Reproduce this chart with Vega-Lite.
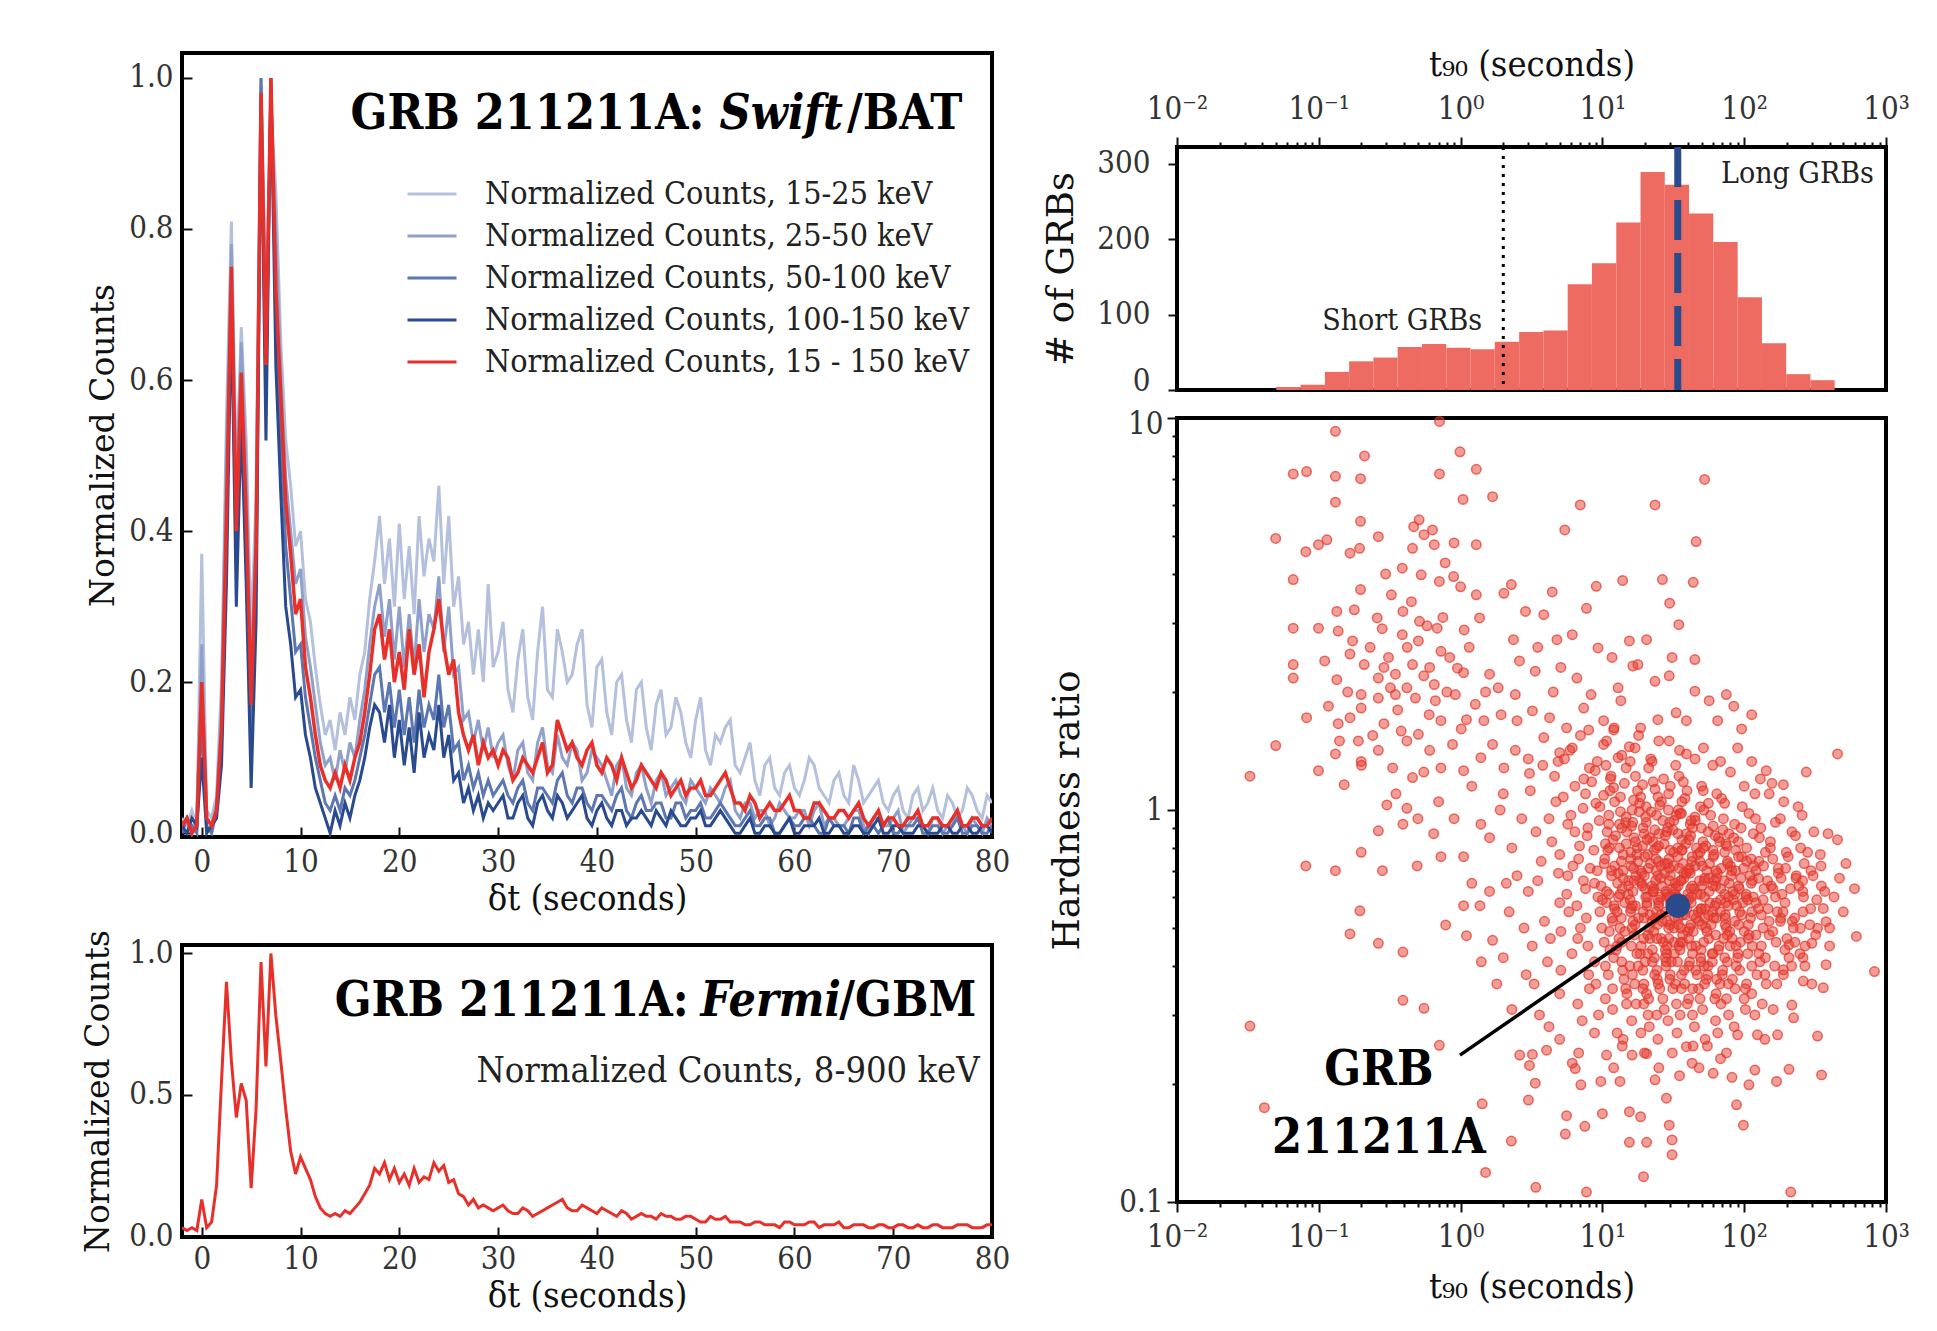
{
"$schema":"https://vega.github.io/schema/vega-lite/v6.json",
"background":"white",
"padding":{"left":80,"top":44,"right":5,"bottom":5},
"spacing":28,
"config":{
 "view":{"stroke":"black","strokeWidth":4},
 "axis":{"labelFont":"DejaVu Serif Condensed, DejaVu Serif","labelFontSize":31,"labelColor":"#333","titleFont":"DejaVu Serif Condensed, DejaVu Serif","titleFontWeight":"normal","titleColor":"#111","tickColor":"#111","tickWidth":2,"grid":false,"domain":false,"labelFlush":false}
},
"datasets":{
"b1":[{"t":-2,"y":0.02},{"t":-1.5,"y":0.01},{"t":-1,"y":0.03},{"t":-0.5,"y":0.01},{"t":0,"y":0.37},{"t":0.5,"y":0.03},{"t":1,"y":0.02},{"t":1.5,"y":0.05},{"t":2,"y":0.2},{"t":2.5,"y":0.55},{"t":3,"y":0.81},{"t":3.5,"y":0.47},{"t":4,"y":0.67},{"t":4.5,"y":0.52},{"t":5,"y":0.26},{"t":5.5,"y":0.45},{"t":6,"y":1.0},{"t":6.5,"y":0.7},{"t":7,"y":0.96},{"t":7.5,"y":0.85},{"t":8,"y":0.65},{"t":8.5,"y":0.52},{"t":9,"y":0.46},{"t":9.5,"y":0.38},{"t":10,"y":0.4},{"t":10.5,"y":0.31},{"t":11,"y":0.28},{"t":11.5,"y":0.22},{"t":12,"y":0.17},{"t":12.5,"y":0.13},{"t":13,"y":0.15},{"t":13.5,"y":0.11},{"t":14,"y":0.16},{"t":14.5,"y":0.13},{"t":15,"y":0.18},{"t":15.5,"y":0.15},{"t":16,"y":0.21},{"t":16.5,"y":0.24},{"t":17,"y":0.31},{"t":17.5,"y":0.36},{"t":18,"y":0.42},{"t":18.5,"y":0.33},{"t":19,"y":0.39},{"t":19.5,"y":0.3},{"t":20,"y":0.41},{"t":20.5,"y":0.31},{"t":21,"y":0.38},{"t":21.5,"y":0.29},{"t":22,"y":0.42},{"t":22.5,"y":0.34},{"t":23,"y":0.39},{"t":23.5,"y":0.36},{"t":24,"y":0.46},{"t":24.5,"y":0.33},{"t":25,"y":0.42},{"t":25.5,"y":0.3},{"t":26,"y":0.34},{"t":26.5,"y":0.25},{"t":27,"y":0.28},{"t":27.5,"y":0.21},{"t":28,"y":0.27},{"t":28.5,"y":0.2},{"t":29,"y":0.33},{"t":29.5,"y":0.22},{"t":30,"y":0.24},{"t":31,"y":0.19},{"t":32,"y":0.23},{"t":33,"y":0.18},{"t":34,"y":0.24},{"t":35,"y":0.19},{"t":36,"y":0.27},{"t":37,"y":0.2},{"t":38,"y":0.25},{"t":39,"y":0.17},{"t":40,"y":0.22},{"t":41,"y":0.16},{"t":42,"y":0.2},{"t":43,"y":0.15},{"t":44,"y":0.19},{"t":45,"y":0.14},{"t":46,"y":0.17},{"t":47,"y":0.13},{"t":48,"y":0.18},{"t":49,"y":0.12},{"t":50,"y":0.15},{"t":51,"y":0.11},{"t":52,"y":0.13},{"t":53,"y":0.14},{"t":54,"y":0.09},{"t":55,"y":0.1},{"t":56,"y":0.07},{"t":57,"y":0.09},{"t":58,"y":0.06},{"t":59,"y":0.08},{"t":60,"y":0.06},{"t":61,"y":0.07},{"t":62,"y":0.09},{"t":63,"y":0.05},{"t":64,"y":0.07},{"t":65,"y":0.05},{"t":66,"y":0.09},{"t":67,"y":0.04},{"t":68,"y":0.06},{"t":69,"y":0.04},{"t":70,"y":0.05},{"t":71,"y":0.03},{"t":72,"y":0.05},{"t":73,"y":0.03},{"t":74,"y":0.06},{"t":75,"y":0.02},{"t":76,"y":0.04},{"t":77,"y":0.03},{"t":78,"y":0.05},{"t":79,"y":0.02},{"t":80,"y":0.04},
{"t":30.5,"y":0.28},{"t":31.5,"y":0.16},{"t":32.5,"y":0.27},{"t":33.5,"y":0.15},{"t":34.5,"y":0.3},{"t":35.5,"y":0.18},{"t":36.5,"y":0.24},{"t":37.5,"y":0.21},{"t":38.5,"y":0.27},{"t":39.5,"y":0.14},{"t":40.5,"y":0.23},{"t":41.5,"y":0.13},{"t":42.5,"y":0.21},{"t":43.5,"y":0.12},{"t":44.5,"y":0.2},{"t":45.5,"y":0.11},{"t":46.5,"y":0.19},{"t":47.5,"y":0.14},{"t":48.5,"y":0.16},{"t":49.5,"y":0.1},{"t":50.5,"y":0.18},{"t":51.5,"y":0.09},{"t":52.5,"y":0.12},{"t":53.5,"y":0.15},{"t":54.5,"y":0.08},{"t":55.5,"y":0.12},{"t":56.5,"y":0.05},{"t":57.5,"y":0.1},{"t":58.5,"y":0.05},{"t":59.5,"y":0.09},{"t":60.5,"y":0.05},{"t":61.5,"y":0.1},{"t":62.5,"y":0.06},{"t":63.5,"y":0.04},{"t":64.5,"y":0.08},{"t":65.5,"y":0.04},{"t":66.5,"y":0.07},{"t":67.5,"y":0.05},{"t":68.5,"y":0.07},{"t":69.5,"y":0.03},{"t":70.5,"y":0.06},{"t":71.5,"y":0.02},{"t":72.5,"y":0.06},{"t":73.5,"y":0.04},{"t":74.5,"y":0.03},{"t":75.5,"y":0.05},{"t":76.5,"y":0.02},{"t":77.5,"y":0.06},{"t":78.5,"y":0.03},{"t":79.5,"y":0.05}],
"b2":[{"t":-2,"y":0.01},{"t":-1.5,"y":0.02},{"t":-1,"y":0.0},{"t":-0.5,"y":0.02},{"t":0,"y":0.25},{"t":0.5,"y":0.02},{"t":1,"y":0.01},{"t":1.5,"y":0.04},{"t":2,"y":0.17},{"t":2.5,"y":0.5},{"t":3,"y":0.78},{"t":3.5,"y":0.44},{"t":4,"y":0.65},{"t":4.5,"y":0.48},{"t":5,"y":0.2},{"t":5.5,"y":0.41},{"t":6,"y":0.99},{"t":6.5,"y":0.66},{"t":7,"y":0.97},{"t":7.5,"y":0.8},{"t":8,"y":0.61},{"t":8.5,"y":0.47},{"t":9,"y":0.4},{"t":9.5,"y":0.33},{"t":10,"y":0.35},{"t":10.5,"y":0.26},{"t":11,"y":0.22},{"t":11.5,"y":0.17},{"t":12,"y":0.12},{"t":12.5,"y":0.09},{"t":13,"y":0.1},{"t":13.5,"y":0.07},{"t":14,"y":0.11},{"t":14.5,"y":0.08},{"t":15,"y":0.12},{"t":15.5,"y":0.1},{"t":16,"y":0.15},{"t":16.5,"y":0.19},{"t":17,"y":0.25},{"t":17.5,"y":0.3},{"t":18,"y":0.33},{"t":18.5,"y":0.26},{"t":19,"y":0.31},{"t":19.5,"y":0.23},{"t":20,"y":0.3},{"t":20.5,"y":0.22},{"t":21,"y":0.29},{"t":21.5,"y":0.22},{"t":22,"y":0.31},{"t":22.5,"y":0.24},{"t":23,"y":0.29},{"t":23.5,"y":0.27},{"t":24,"y":0.34},{"t":24.5,"y":0.24},{"t":25,"y":0.3},{"t":25.5,"y":0.21},{"t":26,"y":0.22},{"t":26.5,"y":0.15},{"t":27,"y":0.16},{"t":27.5,"y":0.12},{"t":28,"y":0.15},{"t":28.5,"y":0.11},{"t":29,"y":0.14},{"t":29.5,"y":0.1},{"t":30,"y":0.12},{"t":31,"y":0.09},{"t":32,"y":0.11},{"t":33,"y":0.08},{"t":34,"y":0.12},{"t":35,"y":0.09},{"t":36,"y":0.13},{"t":37,"y":0.09},{"t":38,"y":0.11},{"t":39,"y":0.08},{"t":40,"y":0.1},{"t":41,"y":0.07},{"t":42,"y":0.09},{"t":43,"y":0.06},{"t":44,"y":0.08},{"t":45,"y":0.06},{"t":46,"y":0.07},{"t":47,"y":0.05},{"t":48,"y":0.07},{"t":49,"y":0.04},{"t":50,"y":0.06},{"t":51,"y":0.04},{"t":52,"y":0.05},{"t":53,"y":0.06},{"t":54,"y":0.03},{"t":55,"y":0.04},{"t":56,"y":0.02},{"t":57,"y":0.03},{"t":58,"y":0.02},{"t":59,"y":0.03},{"t":60,"y":0.02},{"t":61,"y":0.03},{"t":62,"y":0.03},{"t":63,"y":0.01},{"t":64,"y":0.02},{"t":65,"y":0.01},{"t":66,"y":0.03},{"t":67,"y":0.01},{"t":68,"y":0.02},{"t":69,"y":0.01},{"t":70,"y":0.02},{"t":71,"y":0.0},{"t":72,"y":0.02},{"t":73,"y":0.01},{"t":74,"y":0.02},{"t":75,"y":0.0},{"t":76,"y":0.01},{"t":77,"y":0.01},{"t":78,"y":0.02},{"t":79,"y":0.0},{"t":80,"y":0.01},
{"t":30.5,"y":0.13},{"t":31.5,"y":0.07},{"t":32.5,"y":0.12},{"t":33.5,"y":0.07},{"t":34.5,"y":0.14},{"t":35.5,"y":0.08},{"t":36.5,"y":0.1},{"t":37.5,"y":0.12},{"t":38.5,"y":0.07},{"t":39.5,"y":0.11},{"t":40.5,"y":0.09},{"t":41.5,"y":0.05},{"t":42.5,"y":0.1},{"t":43.5,"y":0.05},{"t":44.5,"y":0.09},{"t":45.5,"y":0.04},{"t":46.5,"y":0.08},{"t":47.5,"y":0.06},{"t":48.5,"y":0.05},{"t":49.5,"y":0.07},{"t":50.5,"y":0.05},{"t":51.5,"y":0.06},{"t":52.5,"y":0.04},{"t":53.5,"y":0.07},{"t":54.5,"y":0.02},{"t":55.5,"y":0.04},{"t":56.5,"y":0.03},{"t":57.5,"y":0.01},{"t":58.5,"y":0.04},{"t":59.5,"y":0.02},{"t":60.5,"y":0.03},{"t":61.5,"y":0.01},{"t":62.5,"y":0.04},{"t":63.5,"y":0.02},{"t":64.5,"y":0.01},{"t":65.5,"y":0.02},{"t":66.5,"y":0.03},{"t":67.5,"y":0.0},{"t":68.5,"y":0.02},{"t":69.5,"y":0.01},{"t":70.5,"y":0.03},{"t":71.5,"y":0.01},{"t":72.5,"y":0.02},{"t":73.5,"y":0.0},{"t":74.5,"y":0.02},{"t":75.5,"y":0.01},{"t":76.5,"y":0.03},{"t":77.5,"y":0.0},{"t":78.5,"y":0.01},{"t":79.5,"y":0.02}],
"b3":[{"t":-2,"y":0.0},{"t":-1.5,"y":0.02},{"t":-1,"y":0.01},{"t":-0.5,"y":0.0},{"t":0,"y":0.15},{"t":0.5,"y":0.01},{"t":1,"y":0.0},{"t":1.5,"y":0.03},{"t":2,"y":0.12},{"t":2.5,"y":0.4},{"t":3,"y":0.73},{"t":3.5,"y":0.36},{"t":4,"y":0.58},{"t":4.5,"y":0.4},{"t":5,"y":0.12},{"t":5.5,"y":0.33},{"t":6,"y":1.0},{"t":6.5,"y":0.58},{"t":7,"y":0.99},{"t":7.5,"y":0.7},{"t":8,"y":0.52},{"t":8.5,"y":0.38},{"t":9,"y":0.31},{"t":9.5,"y":0.24},{"t":10,"y":0.25},{"t":10.5,"y":0.18},{"t":11,"y":0.14},{"t":11.5,"y":0.1},{"t":12,"y":0.07},{"t":12.5,"y":0.04},{"t":13,"y":0.03},{"t":13.5,"y":0.05},{"t":14,"y":0.03},{"t":14.5,"y":0.06},{"t":15,"y":0.05},{"t":15.5,"y":0.07},{"t":16,"y":0.1},{"t":16.5,"y":0.13},{"t":17,"y":0.17},{"t":17.5,"y":0.21},{"t":18,"y":0.22},{"t":18.5,"y":0.16},{"t":19,"y":0.2},{"t":19.5,"y":0.14},{"t":20,"y":0.19},{"t":20.5,"y":0.13},{"t":21,"y":0.18},{"t":21.5,"y":0.12},{"t":22,"y":0.19},{"t":22.5,"y":0.14},{"t":23,"y":0.17},{"t":23.5,"y":0.15},{"t":24,"y":0.21},{"t":24.5,"y":0.14},{"t":25,"y":0.17},{"t":25.5,"y":0.11},{"t":26,"y":0.12},{"t":26.5,"y":0.07},{"t":27,"y":0.09},{"t":27.5,"y":0.06},{"t":28,"y":0.08},{"t":28.5,"y":0.05},{"t":29,"y":0.07},{"t":29.5,"y":0.05},{"t":30,"y":0.06},{"t":31,"y":0.05},{"t":32,"y":0.06},{"t":33,"y":0.04},{"t":34,"y":0.06},{"t":35,"y":0.05},{"t":36,"y":0.07},{"t":37,"y":0.05},{"t":38,"y":0.06},{"t":39,"y":0.04},{"t":40,"y":0.05},{"t":41,"y":0.04},{"t":42,"y":0.05},{"t":43,"y":0.03},{"t":44,"y":0.04},{"t":45,"y":0.03},{"t":46,"y":0.04},{"t":47,"y":0.02},{"t":48,"y":0.04},{"t":49,"y":0.02},{"t":50,"y":0.03},{"t":51,"y":0.02},{"t":52,"y":0.03},{"t":53,"y":0.03},{"t":54,"y":0.01},{"t":55,"y":0.02},{"t":56,"y":0.01},{"t":57,"y":0.02},{"t":58,"y":0.0},{"t":59,"y":0.01},{"t":60,"y":0.01},{"t":61,"y":0.02},{"t":62,"y":0.01},{"t":63,"y":0.0},{"t":64,"y":0.01},{"t":65,"y":0.01},{"t":66,"y":0.02},{"t":67,"y":0.0},{"t":68,"y":0.01},{"t":69,"y":0.01},{"t":70,"y":0.0},{"t":71,"y":0.01},{"t":72,"y":0.01},{"t":73,"y":0.0},{"t":74,"y":0.01},{"t":75,"y":0.0},{"t":76,"y":0.01},{"t":77,"y":0.0},{"t":78,"y":0.01},{"t":79,"y":0.0},{"t":80,"y":0.01},
{"t":30.5,"y":0.07},{"t":31.5,"y":0.04},{"t":32.5,"y":0.07},{"t":33.5,"y":0.03},{"t":34.5,"y":0.06},{"t":35.5,"y":0.04},{"t":36.5,"y":0.08},{"t":37.5,"y":0.04},{"t":38.5,"y":0.06},{"t":39.5,"y":0.03},{"t":40.5,"y":0.05},{"t":41.5,"y":0.03},{"t":42.5,"y":0.06},{"t":43.5,"y":0.02},{"t":44.5,"y":0.05},{"t":45.5,"y":0.03},{"t":46.5,"y":0.04},{"t":47.5,"y":0.02},{"t":48.5,"y":0.04},{"t":49.5,"y":0.03},{"t":50.5,"y":0.04},{"t":51.5,"y":0.02},{"t":52.5,"y":0.04},{"t":53.5,"y":0.02},{"t":54.5,"y":0.01},{"t":55.5,"y":0.03},{"t":56.5,"y":0.01},{"t":57.5,"y":0.02},{"t":58.5,"y":0.0},{"t":59.5,"y":0.02},{"t":60.5,"y":0.01},{"t":61.5,"y":0.02},{"t":62.5,"y":0.0},{"t":63.5,"y":0.02},{"t":64.5,"y":0.01},{"t":65.5,"y":0.0},{"t":66.5,"y":0.02},{"t":67.5,"y":0.01},{"t":68.5,"y":0.0},{"t":69.5,"y":0.02},{"t":70.5,"y":0.0},{"t":71.5,"y":0.01},{"t":72.5,"y":0.02},{"t":73.5,"y":0.0},{"t":74.5,"y":0.01},{"t":75.5,"y":0.0},{"t":76.5,"y":0.02},{"t":77.5,"y":0.0},{"t":78.5,"y":0.01},{"t":79.5,"y":0.0}],
"b4":[{"t":-2,"y":0.01},{"t":-1.5,"y":0.0},{"t":-1,"y":0.02},{"t":-0.5,"y":0.01},{"t":0,"y":0.1},{"t":0.5,"y":0.0},{"t":1,"y":0.01},{"t":1.5,"y":0.02},{"t":2,"y":0.09},{"t":2.5,"y":0.33},{"t":3,"y":0.7},{"t":3.5,"y":0.3},{"t":4,"y":0.55},{"t":4.5,"y":0.33},{"t":5,"y":0.06},{"t":5.5,"y":0.28},{"t":6,"y":0.97},{"t":6.5,"y":0.52},{"t":7,"y":1.0},{"t":7.5,"y":0.62},{"t":8,"y":0.45},{"t":8.5,"y":0.3},{"t":9,"y":0.25},{"t":9.5,"y":0.18},{"t":10,"y":0.19},{"t":10.5,"y":0.13},{"t":11,"y":0.1},{"t":11.5,"y":0.06},{"t":12,"y":0.04},{"t":12.5,"y":0.02},{"t":13,"y":0.0},{"t":13.5,"y":0.03},{"t":14,"y":0.01},{"t":14.5,"y":0.04},{"t":15,"y":0.02},{"t":15.5,"y":0.05},{"t":16,"y":0.07},{"t":16.5,"y":0.1},{"t":17,"y":0.14},{"t":17.5,"y":0.17},{"t":18,"y":0.16},{"t":18.5,"y":0.12},{"t":19,"y":0.17},{"t":19.5,"y":0.1},{"t":20,"y":0.15},{"t":20.5,"y":0.09},{"t":21,"y":0.14},{"t":21.5,"y":0.08},{"t":22,"y":0.16},{"t":22.5,"y":0.1},{"t":23,"y":0.13},{"t":23.5,"y":0.11},{"t":24,"y":0.17},{"t":24.5,"y":0.1},{"t":25,"y":0.13},{"t":25.5,"y":0.07},{"t":26,"y":0.08},{"t":26.5,"y":0.04},{"t":27,"y":0.06},{"t":27.5,"y":0.03},{"t":28,"y":0.05},{"t":28.5,"y":0.02},{"t":29,"y":0.04},{"t":29.5,"y":0.03},{"t":30,"y":0.04},{"t":31,"y":0.02},{"t":32,"y":0.04},{"t":33,"y":0.02},{"t":34,"y":0.04},{"t":35,"y":0.03},{"t":36,"y":0.05},{"t":37,"y":0.02},{"t":38,"y":0.04},{"t":39,"y":0.02},{"t":40,"y":0.03},{"t":41,"y":0.02},{"t":42,"y":0.03},{"t":43,"y":0.01},{"t":44,"y":0.02},{"t":45,"y":0.02},{"t":46,"y":0.03},{"t":47,"y":0.01},{"t":48,"y":0.02},{"t":49,"y":0.01},{"t":50,"y":0.02},{"t":51,"y":0.01},{"t":52,"y":0.02},{"t":53,"y":0.02},{"t":54,"y":0.0},{"t":55,"y":0.01},{"t":56,"y":0.0},{"t":57,"y":0.01},{"t":58,"y":0.0},{"t":59,"y":0.01},{"t":60,"y":0.0},{"t":61,"y":0.01},{"t":62,"y":0.01},{"t":63,"y":0.0},{"t":64,"y":0.01},{"t":65,"y":0.0},{"t":66,"y":0.01},{"t":67,"y":0.0},{"t":68,"y":0.01},{"t":69,"y":0.0},{"t":70,"y":0.01},{"t":71,"y":0.0},{"t":72,"y":0.0},{"t":73,"y":0.01},{"t":74,"y":0.0},{"t":75,"y":0.01},{"t":76,"y":0.0},{"t":77,"y":0.01},{"t":78,"y":0.0},{"t":79,"y":0.01},{"t":80,"y":0.0},
{"t":30.5,"y":0.05},{"t":31.5,"y":0.02},{"t":32.5,"y":0.05},{"t":33.5,"y":0.01},{"t":34.5,"y":0.05},{"t":35.5,"y":0.02},{"t":36.5,"y":0.04},{"t":37.5,"y":0.03},{"t":38.5,"y":0.05},{"t":39.5,"y":0.01},{"t":40.5,"y":0.04},{"t":41.5,"y":0.01},{"t":42.5,"y":0.03},{"t":43.5,"y":0.02},{"t":44.5,"y":0.03},{"t":45.5,"y":0.01},{"t":46.5,"y":0.02},{"t":47.5,"y":0.03},{"t":48.5,"y":0.01},{"t":49.5,"y":0.02},{"t":50.5,"y":0.03},{"t":51.5,"y":0.01},{"t":52.5,"y":0.03},{"t":53.5,"y":0.01},{"t":54.5,"y":0.0},{"t":55.5,"y":0.02},{"t":56.5,"y":0.0},{"t":57.5,"y":0.01},{"t":58.5,"y":0.0},{"t":59.5,"y":0.02},{"t":60.5,"y":0.0},{"t":61.5,"y":0.01},{"t":62.5,"y":0.02},{"t":63.5,"y":0.0},{"t":64.5,"y":0.01},{"t":65.5,"y":0.0},{"t":66.5,"y":0.01},{"t":67.5,"y":0.0},{"t":68.5,"y":0.02},{"t":69.5,"y":0.0},{"t":70.5,"y":0.01},{"t":71.5,"y":0.0},{"t":72.5,"y":0.01},{"t":73.5,"y":0.0},{"t":74.5,"y":0.0},{"t":75.5,"y":0.01},{"t":76.5,"y":0.0},{"t":77.5,"y":0.01},{"t":78.5,"y":0.0},{"t":79.5,"y":0.01}],
"b5":[{"t":-2,"y":0.01},{"t":-1.5,"y":0.02},{"t":-1,"y":0.0},{"t":-0.5,"y":0.01},{"t":0,"y":0.2},{"t":0.5,"y":0.02},{"t":1,"y":0.01},{"t":1.5,"y":0.03},{"t":2,"y":0.14},{"t":2.5,"y":0.42},{"t":3,"y":0.75},{"t":3.5,"y":0.4},{"t":4,"y":0.61},{"t":4.5,"y":0.42},{"t":5,"y":0.17},{"t":5.5,"y":0.38},{"t":6,"y":0.98},{"t":6.5,"y":0.62},{"t":7,"y":1.0},{"t":7.5,"y":0.72},{"t":8,"y":0.58},{"t":8.5,"y":0.44},{"t":9,"y":0.37},{"t":9.5,"y":0.29},{"t":10,"y":0.31},{"t":10.5,"y":0.22},{"t":11,"y":0.18},{"t":11.5,"y":0.13},{"t":12,"y":0.09},{"t":12.5,"y":0.07},{"t":13,"y":0.06},{"t":13.5,"y":0.08},{"t":14,"y":0.06},{"t":14.5,"y":0.09},{"t":15,"y":0.07},{"t":15.5,"y":0.1},{"t":16,"y":0.12},{"t":16.5,"y":0.16},{"t":17,"y":0.21},{"t":17.5,"y":0.27},{"t":18,"y":0.29},{"t":18.5,"y":0.23},{"t":19,"y":0.27},{"t":19.5,"y":0.2},{"t":20,"y":0.24},{"t":20.5,"y":0.19},{"t":21,"y":0.27},{"t":21.5,"y":0.21},{"t":22,"y":0.25},{"t":22.5,"y":0.18},{"t":23,"y":0.24},{"t":23.5,"y":0.27},{"t":24,"y":0.31},{"t":24.5,"y":0.25},{"t":25,"y":0.21},{"t":25.5,"y":0.23},{"t":26,"y":0.16},{"t":26.5,"y":0.13},{"t":27,"y":0.11},{"t":27.5,"y":0.13},{"t":28,"y":0.09},{"t":28.5,"y":0.12},{"t":29,"y":0.1},{"t":29.5,"y":0.11},{"t":30,"y":0.09},{"t":31,"y":0.1},{"t":32,"y":0.08},{"t":33,"y":0.09},{"t":34,"y":0.1},{"t":35,"y":0.08},{"t":36,"y":0.15},{"t":37,"y":0.11},{"t":38,"y":0.1},{"t":39,"y":0.11},{"t":40,"y":0.09},{"t":41,"y":0.1},{"t":42,"y":0.07},{"t":43,"y":0.08},{"t":44,"y":0.07},{"t":45,"y":0.08},{"t":46,"y":0.06},{"t":47,"y":0.07},{"t":48,"y":0.06},{"t":49,"y":0.05},{"t":50,"y":0.06},{"t":51,"y":0.05},{"t":52,"y":0.06},{"t":53,"y":0.08},{"t":54,"y":0.04},{"t":55,"y":0.03},{"t":56,"y":0.04},{"t":57,"y":0.03},{"t":58,"y":0.03},{"t":59,"y":0.04},{"t":60,"y":0.03},{"t":61,"y":0.02},{"t":62,"y":0.04},{"t":63,"y":0.03},{"t":64,"y":0.02},{"t":65,"y":0.03},{"t":66,"y":0.03},{"t":67,"y":0.02},{"t":68,"y":0.02},{"t":69,"y":0.01},{"t":70,"y":0.02},{"t":71,"y":0.01},{"t":72,"y":0.02},{"t":73,"y":0.01},{"t":74,"y":0.02},{"t":75,"y":0.01},{"t":76,"y":0.02},{"t":77,"y":0.01},{"t":78,"y":0.02},{"t":79,"y":0.01},{"t":80,"y":0.02},
{"t":30.5,"y":0.11},{"t":31.5,"y":0.07},{"t":32.5,"y":0.1},{"t":33.5,"y":0.08},{"t":34.5,"y":0.12},{"t":35.5,"y":0.09},{"t":36.5,"y":0.13},{"t":37.5,"y":0.12},{"t":38.5,"y":0.09},{"t":39.5,"y":0.12},{"t":40.5,"y":0.08},{"t":41.5,"y":0.09},{"t":42.5,"y":0.1},{"t":43.5,"y":0.06},{"t":44.5,"y":0.09},{"t":45.5,"y":0.07},{"t":46.5,"y":0.08},{"t":47.5,"y":0.05},{"t":48.5,"y":0.07},{"t":49.5,"y":0.06},{"t":50.5,"y":0.07},{"t":51.5,"y":0.05},{"t":52.5,"y":0.07},{"t":53.5,"y":0.06},{"t":54.5,"y":0.04},{"t":55.5,"y":0.05},{"t":56.5,"y":0.02},{"t":57.5,"y":0.04},{"t":58.5,"y":0.03},{"t":59.5,"y":0.05},{"t":60.5,"y":0.03},{"t":61.5,"y":0.02},{"t":62.5,"y":0.04},{"t":63.5,"y":0.02},{"t":64.5,"y":0.03},{"t":65.5,"y":0.02},{"t":66.5,"y":0.04},{"t":67.5,"y":0.01},{"t":68.5,"y":0.03},{"t":69.5,"y":0.02},{"t":70.5,"y":0.01},{"t":71.5,"y":0.02},{"t":72.5,"y":0.03},{"t":73.5,"y":0.01},{"t":74.5,"y":0.02},{"t":75.5,"y":0.01},{"t":76.5,"y":0.03},{"t":77.5,"y":0.01},{"t":78.5,"y":0.02},{"t":79.5,"y":0.01}],
"gbm":[{"t":-2,"y":0.03},{"t":-1.5,"y":0.02},{"t":-1,"y":0.03},{"t":-0.5,"y":0.02},{"t":0,"y":0.13},{"t":0.5,"y":0.03},{"t":1,"y":0.05},{"t":1.5,"y":0.18},{"t":2,"y":0.55},{"t":2.5,"y":0.9},{"t":3,"y":0.62},{"t":3.5,"y":0.42},{"t":4,"y":0.54},{"t":4.5,"y":0.48},{"t":5,"y":0.17},{"t":5.5,"y":0.45},{"t":6,"y":0.97},{"t":6.5,"y":0.6},{"t":7,"y":1.0},{"t":7.5,"y":0.78},{"t":8,"y":0.62},{"t":8.5,"y":0.45},{"t":9,"y":0.3},{"t":9.5,"y":0.22},{"t":10,"y":0.28},{"t":10.5,"y":0.24},{"t":11,"y":0.2},{"t":11.5,"y":0.14},{"t":12,"y":0.1},{"t":12.5,"y":0.08},{"t":13,"y":0.07},{"t":13.5,"y":0.08},{"t":14,"y":0.07},{"t":14.5,"y":0.09},{"t":15,"y":0.08},{"t":15.5,"y":0.1},{"t":16,"y":0.12},{"t":16.5,"y":0.15},{"t":17,"y":0.18},{"t":17.5,"y":0.24},{"t":18,"y":0.22},{"t":18.5,"y":0.26},{"t":19,"y":0.2},{"t":19.5,"y":0.24},{"t":20,"y":0.19},{"t":20.5,"y":0.22},{"t":21,"y":0.18},{"t":21.5,"y":0.24},{"t":22,"y":0.19},{"t":22.5,"y":0.21},{"t":23,"y":0.2},{"t":23.5,"y":0.26},{"t":24,"y":0.23},{"t":24.5,"y":0.25},{"t":25,"y":0.19},{"t":25.5,"y":0.2},{"t":26,"y":0.15},{"t":26.5,"y":0.14},{"t":27,"y":0.11},{"t":27.5,"y":0.13},{"t":28,"y":0.1},{"t":28.5,"y":0.11},{"t":29,"y":0.1},{"t":29.5,"y":0.09},{"t":30,"y":0.1},{"t":31,"y":0.09},{"t":32,"y":0.08},{"t":33,"y":0.09},{"t":34,"y":0.08},{"t":35,"y":0.1},{"t":36,"y":0.12},{"t":37,"y":0.1},{"t":38,"y":0.09},{"t":39,"y":0.1},{"t":40,"y":0.08},{"t":41,"y":0.09},{"t":42,"y":0.07},{"t":43,"y":0.08},{"t":44,"y":0.07},{"t":45,"y":0.07},{"t":46,"y":0.06},{"t":47,"y":0.07},{"t":48,"y":0.06},{"t":49,"y":0.07},{"t":50,"y":0.06},{"t":51,"y":0.05},{"t":52,"y":0.06},{"t":53,"y":0.07},{"t":54,"y":0.05},{"t":55,"y":0.04},{"t":56,"y":0.05},{"t":57,"y":0.04},{"t":58,"y":0.04},{"t":59,"y":0.05},{"t":60,"y":0.04},{"t":61,"y":0.04},{"t":62,"y":0.05},{"t":63,"y":0.04},{"t":64,"y":0.04},{"t":65,"y":0.03},{"t":66,"y":0.04},{"t":67,"y":0.04},{"t":68,"y":0.03},{"t":69,"y":0.04},{"t":70,"y":0.03},{"t":71,"y":0.04},{"t":72,"y":0.03},{"t":73,"y":0.03},{"t":74,"y":0.04},{"t":75,"y":0.03},{"t":76,"y":0.03},{"t":77,"y":0.04},{"t":78,"y":0.03},{"t":79,"y":0.03},{"t":80,"y":0.04},
{"t":30.5,"y":0.11},{"t":31.5,"y":0.08},{"t":32.5,"y":0.1},{"t":33.5,"y":0.07},{"t":34.5,"y":0.09},{"t":35.5,"y":0.11},{"t":36.5,"y":0.13},{"t":37.5,"y":0.09},{"t":38.5,"y":0.11},{"t":39.5,"y":0.09},{"t":40.5,"y":0.1},{"t":41.5,"y":0.08},{"t":42.5,"y":0.09},{"t":43.5,"y":0.06},{"t":44.5,"y":0.08},{"t":45.5,"y":0.07},{"t":46.5,"y":0.08},{"t":47.5,"y":0.07},{"t":48.5,"y":0.06},{"t":49.5,"y":0.07},{"t":50.5,"y":0.05},{"t":51.5,"y":0.07},{"t":52.5,"y":0.06},{"t":53.5,"y":0.05},{"t":54.5,"y":0.05},{"t":55.5,"y":0.04},{"t":56.5,"y":0.05},{"t":57.5,"y":0.04},{"t":58.5,"y":0.03},{"t":59.5,"y":0.05},{"t":60.5,"y":0.04},{"t":61.5,"y":0.05},{"t":62.5,"y":0.03},{"t":63.5,"y":0.04},{"t":64.5,"y":0.05},{"t":65.5,"y":0.03},{"t":66.5,"y":0.04},{"t":67.5,"y":0.03},{"t":68.5,"y":0.04},{"t":69.5,"y":0.03},{"t":70.5,"y":0.04},{"t":71.5,"y":0.03},{"t":72.5,"y":0.04},{"t":73.5,"y":0.03},{"t":74.5,"y":0.04},{"t":75.5,"y":0.03},{"t":76.5,"y":0.04},{"t":77.5,"y":0.04},{"t":78.5,"y":0.03},{"t":79.5,"y":0.04}],
"hist":[{"lo":0.0501,"hi":0.0743,"n":4},{"lo":0.0743,"hi":0.1104,"n":7},{"lo":0.1104,"hi":0.1637,"n":24},{"lo":0.1637,"hi":0.2427,"n":38},{"lo":0.2427,"hi":0.3597,"n":43},{"lo":0.3597,"hi":0.5346,"n":57},{"lo":0.5346,"hi":0.7925,"n":61},{"lo":0.7925,"hi":1.175,"n":56},{"lo":1.175,"hi":1.742,"n":54},{"lo":1.742,"hi":2.588,"n":64},{"lo":2.588,"hi":3.837,"n":77},{"lo":3.837,"hi":5.689,"n":79},{"lo":5.689,"hi":8.433,"n":140},{"lo":8.433,"hi":12.53,"n":168},{"lo":12.53,"hi":18.58,"n":222},{"lo":18.58,"hi":27.54,"n":289},{"lo":27.54,"hi":40.83,"n":272},{"lo":40.83,"hi":60.53,"n":234},{"lo":60.53,"hi":89.95,"n":196},{"lo":89.95,"hi":133.4,"n":123},{"lo":133.4,"hi":197.7,"n":62},{"lo":197.7,"hi":293.1,"n":21},{"lo":293.1,"hi":434.5,"n":13}],
"grbs":[
{"t":0.131,"h":9.25},{"t":0.71,"h":9.8},{"t":0.21,"h":8.0},{"t":0.99,"h":8.2},{"t":1.29,"h":7.4},{"t":0.066,"h":7.2},{"t":0.082,"h":7.3},{"t":0.131,"h":7.1},{"t":0.197,"h":7.0},{"t":0.71,"h":7.2},{"t":52.6,"h":6.97},{"t":1.04,"h":6.2},{"t":1.68,"h":6.3},{"t":0.131,"h":6.1},{"t":6.98,"h":6.0},{"t":23.5,"h":6.0},{"t":0.197,"h":5.45},{"t":0.51,"h":5.5},
{"t":0.467,"h":5.28},{"t":0.634,"h":5.18},{"t":0.263,"h":4.98},{"t":0.0497,"h":4.93},{"t":5.43,"h":5.18},{"t":45.8,"h":4.84},{"t":0.114,"h":4.89},{"t":0.0995,"h":4.75},{"t":0.081,"h":4.56},{"t":0.166,"h":4.52},{"t":0.194,"h":4.65},{"t":0.458,"h":4.65},{"t":0.652,"h":4.75},{"t":0.9,"h":4.8},{"t":1.29,"h":4.75},{"t":0.552,"h":5.04},{"t":0.778,"h":4.27},{"t":0.066,"h":3.87},{"t":0.296,"h":4.0},{"t":0.388,"h":4.14},{"t":0.527,"h":3.98},{"t":0.708,"h":3.83},{"t":0.893,"h":3.94},{"t":0.197,"h":3.65},{"t":0.325,"h":3.54},{"t":1.0,"h":3.71},{"t":1.29,"h":3.54},{"t":2.02,"h":3.57},{"t":2.28,"h":3.76},{"t":4.43,"h":3.6},{"t":9.05,"h":3.72},{"t":13.9,"h":3.85},{"t":26.5,"h":3.87},{"t":43.7,"h":3.81},{"t":7.72,"h":3.27},{"t":29.8,"h":3.37},{"t":34.6,"h":2.97},{"t":0.178,"h":3.24},{"t":0.134,"h":3.21},{"t":0.258,"h":3.09},{"t":0.392,"h":3.21},{"t":0.513,"h":3.03},{"t":0.683,"h":2.91},{"t":1.06,"h":2.88},{"t":1.36,"h":3.09},{"t":2.87,"h":3.21},{"t":3.86,"h":3.15},{"t":0.066,"h":2.91},{"t":0.0995,"h":2.91},{"t":0.137,"h":2.86},{"t":0.173,"h":2.7},{"t":0.388,"h":2.8},{"t":0.504,"h":2.7},{"t":0.727,"h":2.54},{"t":2.36,"h":2.72},{"t":4.78,"h":2.72},{"t":6.13,"h":2.8},{"t":15.5,"h":2.7},{"t":20.5,"h":2.72},{"t":44.9,"h":2.42},{"t":31.0,"h":2.45},{"t":17.8,"h":2.35},{"t":11.7,"h":2.45},{"t":9.31,"h":2.59},{"t":0.066,"h":2.35},{"t":0.066,"h":2.17},{"t":0.134,"h":2.15},{"t":0.166,"h":2.5},{"t":0.209,"h":2.35},{"t":0.288,"h":2.31},{"t":0.347,"h":2.22},{"t":0.263,"h":2.17},{"t":0.458,"h":2.35},{"t":0.605,"h":2.31},{"t":0.838,"h":2.45},{"t":1.05,"h":2.24},{"t":1.6,"h":2.22},{"t":1.84,"h":2.05},{"t":2.43,"h":1.97},{"t":3.36,"h":2.26},{"t":5.09,"h":2.31},{"t":6.61,"h":2.17},{"t":8.32,"h":1.97},{"t":12.9,"h":2.05},{"t":16.4,"h":2.33},{"t":23.5,"h":2.13},{"t":29.6,"h":2.2},{"t":44.9,"h":2.01},{"t":74.8,"h":1.97},{"t":113,"h":1.75},{"t":84.4,"h":1.84},{"t":56.6,"h":1.9},{"t":33.1,"h":1.77},{"t":0.082,"h":1.72},{"t":0.117,"h":1.84},{"t":0.137,"h":1.66},{"t":0.199,"h":1.97},{"t":0.199,"h":1.82},{"t":0.263,"h":1.93},{"t":0.347,"h":1.97},{"t":0.418,"h":2.05},{"t":0.48,"h":1.93},{"t":0.652,"h":2.09},{"t":0.664,"h":1.9},{"t":0.918,"h":1.97},{"t":1.27,"h":1.86},{"t":0.166,"h":1.72},{"t":0.288,"h":1.66},{"t":0.381,"h":1.59},{"t":0.504,"h":1.56},{"t":0.727,"h":1.69},{"t":1.01,"h":1.61},{"t":1.46,"h":1.69},{"t":1.93,"h":1.75},{"t":2.5,"h":1.69},{"t":3.21,"h":1.79},{"t":4.24,"h":1.72},{"t":5.59,"h":1.62},{"t":7.38,"h":1.82},{"t":10.2,"h":1.69},{"t":13.5,"h":1.9},{"t":18.6,"h":1.62},{"t":24.6,"h":1.7},{"t":39.1,"h":1.69},{"t":65.0,"h":1.69},{"t":95.9,"h":1.61},{"t":0.0497,"h":1.46},{"t":0.0995,"h":1.26},{"t":0.131,"h":1.39},{"t":0.151,"h":1.16},{"t":0.19,"h":1.5},{"t":0.199,"h":1.33},{"t":0.263,"h":1.42},{"t":0.332,"h":1.28},{"t":0.418,"h":1.5},{"t":0.458,"h":1.21},{"t":0.605,"h":1.42},{"t":0.727,"h":1.28},{"t":0.877,"h":1.47},{"t":1.05,"h":1.26},{"t":1.39,"h":1.36},{"t":1.68,"h":1.47},{"t":2.02,"h":1.28},{"t":2.43,"h":1.42},{"t":3.06,"h":1.24},{"t":3.86,"h":1.53},{"t":4.87,"h":1.33},{"t":6.13,"h":1.44},{"t":8.09,"h":1.28},{"t":10.2,"h":1.47},{"t":12.9,"h":1.36},{"t":17.0,"h":1.44},{"t":22.4,"h":1.33},{"t":29.6,"h":1.5},{"t":39.1,"h":1.39},{"t":51.6,"h":1.44},{"t":68.1,"h":1.33},{"t":89.9,"h":1.44},{"t":113,"h":1.33},{"t":143,"h":1.26},{"t":189,"h":1.16},{"t":455,"h":1.39},{"t":274,"h":1.25},{"t":157,"h":1.17},{"t":119,"h":1.1},{"t":0.0327,"h":1.22},{"t":0.081,"h":0.72},{"t":0.131,"h":0.7},{"t":0.199,"h":0.78},{"t":0.281,"h":0.7},{"t":0.263,"h":0.885},{"t":0.392,"h":0.92},{"t":0.494,"h":0.72},{"t":0.302,"h":1.03},{"t":0.418,"h":1.01},{"t":0.646,"h":0.87},{"t":0.727,"h":0.76},{"t":1.05,"h":0.76},{"t":1.39,"h":0.92},{"t":455,"h":0.84},{"t":344,"h":0.77},{"t":522,"h":0.73},{"t":256,"h":0.97},
{"t":0.195,"h":0.553},{"t":0.166,"h":0.483},{"t":0.263,"h":0.457},{"t":0.392,"h":0.434},{"t":1.05,"h":0.57},{"t":1.37,"h":0.57},{"t":0.785,"h":0.509},{"t":1.1,"h":0.478},{"t":1.68,"h":0.465},{"t":0.392,"h":0.327},{"t":0.552,"h":0.312},{"t":0.0327,"h":0.281},{"t":0.708,"h":0.251},{"t":0.0413,"h":0.174},{"t":1.42,"h":0.178},{"t":2.28,"h":0.143},{"t":1.5,"h":0.119},{"t":3.39,"h":0.109},{"t":7.72,"h":0.106},{"t":19.5,"h":0.116},{"t":213,"h":0.106},{"t":3.01,"h":0.182},{"t":5.59,"h":0.166},{"t":5.48,"h":0.149},{"t":7.52,"h":0.156},{"t":10.0,"h":0.168},{"t":15.5,"h":0.17},{"t":15.5,"h":0.142},{"t":20.5,"h":0.142},{"t":18.6,"h":0.165},{"t":29.6,"h":0.157},{"t":31.0,"h":0.144},{"t":31.0,"h":0.132},{"t":28.3,"h":0.184},{"t":88.3,"h":0.177},{"t":98.7,"h":0.157},{"t":108,"h":0.199},{"t":119,"h":0.217},{"t":207,"h":0.218},{"t":351,"h":0.211},{"t":169,"h":0.203},{"t":82.0,"h":0.208},{"t":60.4,"h":0.213},{"t":42.9,"h":0.226},{"t":23.5,"h":0.205},{"t":13.3,"h":0.203},{"t":9.75,"h":0.203},{"t":7.05,"h":0.199},{"t":6.43,"h":0.219},{"t":3.36,"h":0.201},{"t":3.06,"h":0.223},{"t":2.61,"h":0.237},{"t":3.21,"h":0.238},{"t":4.04,"h":0.244},{"t":6.13,"h":0.226},{"t":10.7,"h":0.237},{"t":16.2,"h":0.237},{"t":20.5,"h":0.239},{"t":39.1,"h":0.249},{"t":68.1,"h":0.232},{"t":89.9,"h":0.267},{"t":124,"h":0.267},{"t":172,"h":0.267},{"t":329,"h":0.265},{"t":217,"h":0.318},{"t":223,"h":0.295},{"t":119,"h":0.3},{"t":361,"h":0.352},{"t":829,"h":0.387},{"t":618,"h":0.476},{"t":378,"h":0.403},{"t":261,"h":0.366},{"t":189,"h":0.391},{"t":361,"h":0.561},{"t":329,"h":0.499},{"t":300,"h":0.457},{"t":378,"h":0.519},{"t":227,"h":0.53},{"t":249,"h":0.499},{"t":207,"h":0.453},
{"t":1.6,"h":0.62},{"t":2.2,"h":0.55},{"t":2.8,"h":0.5},{"t":2.0,"h":0.42},{"t":1.2,"h":0.65},{"t":2.5,"h":0.68},{"t":1.8,"h":0.36},{"t":2.3,"h":0.31},{"t":2.9,"h":0.38},{"t":1.4,"h":0.41},{"t":4.2,"h":0.28},{"t":5.0,"h":0.26},{"t":3.6,"h":0.3},{"t":6.8,"h":0.24},{"t":8.8,"h":0.27},{"t":12,"h":0.22},{"t":14,"h":0.26},{"t":25,"h":0.22},{"t":35,"h":0.21},{"t":48,"h":0.22},{"t":55,"h":0.25},{"t":75,"h":0.24},{"t":140,"h":0.26},{"t":160,"h":0.31},{"t":260,"h":0.42},{"t":300,"h":0.36},{"t":400,"h":0.45},{"t":430,"h":0.6},{"t":500,"h":0.55},{"t":470,"h":0.67},{"t":600,"h":0.63},{"t":350,"h":0.64},{"t":280,"h":0.78},{"t":230,"h":0.86},{"t":180,"h":0.95},{"t":390,"h":0.87},{"t":310,"h":0.88},{"t":190,"h":1.05},{"t":150,"h":1.1},{"t":240,"h":1.02},{"t":130,"h":1.2},{"t":100,"h":1.15},{"t":80,"h":1.25},{"t":60,"h":1.3},{"t":45,"h":1.35},{"t":35,"h":1.42},{"t":25,"h":1.5},{"t":18,"h":1.55},{"t":12,"h":1.6},{"t":8,"h":1.6},{"t":5,"h":1.4},{"t":3,"h":1.35},{"t":2,"h":1.1},{"t":1.6,"h":0.85},{"t":2.3,"h":0.8},{"t":2.7,"h":0.95},{"t":1.9,"h":1.0},{"t":2.1,"h":0.65},
{"t":0.23,"h":2.6},{"t":0.31,"h":2.45},{"t":0.42,"h":2.6},{"t":0.55,"h":2.2},{"t":0.36,"h":1.8},{"t":0.24,"h":1.55},{"t":0.6,"h":1.75},{"t":0.8,"h":2.0},{"t":0.95,"h":2.3},{"t":0.75,"h":3.1},{"t":0.45,"h":3.4},{"t":0.28,"h":2.9},{"t":0.16,"h":2.0},{"t":0.11,"h":2.4},{"t":0.58,"h":2.95},{"t":1.15,"h":2.6},{"t":1.5,"h":2.0},{"t":2.6,"h":2.4},{"t":3.5,"h":2.6},{"t":4.5,"h":2.0},{"t":0.2,"h":1.3},{"t":0.35,"h":1.1},{"t":0.55,"h":1.25},{"t":0.7,"h":1.05},{"t":0.9,"h":0.95},{"t":1.2,"h":1.15},{"t":0.14,"h":1.5},{"t":0.5,"h":0.95},{"t":1.1,"h":1.7},{"t":0.32,"h":2.05},
{"t":3.2,"h":0.45},{"t":3.0,"h":0.62},{"t":3.4,"h":0.88},{"t":3.1,"h":1.12},{"t":3.3,"h":0.36},
{"t":3.9,"h":0.52},{"t":3.7,"h":0.74},{"t":4.2,"h":0.95},{"t":3.8,"h":1.3},{"t":4.1,"h":0.41},{"t":3.5,"h":0.66},
{"t":5.0,"h":0.58},{"t":4.4,"h":0.83},{"t":4.7,"h":1.05},{"t":4.3,"h":0.47},{"t":4.9,"h":0.69},{"t":4.6,"h":1.22},{"t":5.0,"h":0.34},
{"t":5.1,"h":0.49},{"t":5.6,"h":0.61},{"t":5.0,"h":0.77},{"t":5.7,"h":0.92},{"t":5.3,"h":1.08},{"t":5.4,"h":1.35},{"t":5.1,"h":0.39},{"t":5.8,"h":0.55},
{"t":6.1,"h":0.43},{"t":6.6,"h":0.57},{"t":5.7,"h":0.68},{"t":6.9,"h":0.81},{"t":6.0,"h":0.97},{"t":6.4,"h":1.15},{"t":5.9,"h":1.42},{"t":6.7,"h":0.32},{"t":6.2,"h":0.72},
{"t":8.0,"h":0.38},{"t":7.0,"h":0.5},{"t":7.6,"h":0.63},{"t":6.8,"h":0.75},{"t":7.8,"h":0.86},{"t":7.3,"h":1.01},{"t":7.4,"h":1.2},{"t":7.0,"h":1.55},{"t":7.9,"h":0.45},{"t":7.2,"h":0.29},
{"t":8.8,"h":0.41},{"t":7.7,"h":0.53},{"t":9.3,"h":0.6},{"t":8.2,"h":0.71},{"t":8.7,"h":0.79},{"t":7.9,"h":0.9},{"t":9.0,"h":1.04},{"t":8.4,"h":1.18},{"t":9.2,"h":1.33},{"t":8.1,"h":0.35},{"t":8.8,"h":0.65},
{"t":9.0,"h":0.36},{"t":10.3,"h":0.46},{"t":9.6,"h":0.55},{"t":9.8,"h":0.64},{"t":9.2,"h":0.7},{"t":10.5,"h":0.82},{"t":9.5,"h":0.94},{"t":10.2,"h":1.09},{"t":8.9,"h":1.26},{"t":10.7,"h":1.5},{"t":9.4,"h":0.3},{"t":10.0,"h":0.59},
{"t":10.5,"h":0.33},{"t":12.0,"h":0.42},{"t":11.2,"h":0.49},{"t":12.2,"h":0.56},{"t":10.7,"h":0.62},{"t":11.6,"h":0.68},{"t":10.4,"h":0.75},{"t":11.9,"h":0.84},{"t":11.1,"h":0.97},{"t":11.3,"h":1.12},{"t":10.6,"h":1.3},{"t":12.1,"h":1.62},{"t":11.0,"h":0.38},{"t":11.8,"h":0.52},
{"t":11.8,"h":0.31},{"t":14.2,"h":0.37},{"t":12.5,"h":0.44},{"t":13.3,"h":0.5},{"t":12.1,"h":0.57},{"t":13.8,"h":0.63},{"t":12.9,"h":0.69},{"t":14.0,"h":0.77},{"t":12.4,"h":0.86},{"t":13.4,"h":0.99},{"t":12.0,"h":1.14},{"t":13.7,"h":1.38},{"t":12.7,"h":0.27},{"t":13.0,"h":0.6},{"t":12.2,"h":0.72},
{"t":16.1,"h":0.29},{"t":14.6,"h":0.35},{"t":15.6,"h":0.4},{"t":13.7,"h":0.46},{"t":16.4,"h":0.52},{"t":14.4,"h":0.58},{"t":15.3,"h":0.64},{"t":14.0,"h":0.7},{"t":15.9,"h":0.78},{"t":14.9,"h":0.88},{"t":16.2,"h":1.0},{"t":14.3,"h":1.17},{"t":15.5,"h":1.45},{"t":13.8,"h":0.25},{"t":15.8,"h":0.55},{"t":14.7,"h":0.82},
{"t":17.3,"h":0.32},{"t":16.3,"h":0.38},{"t":18.5,"h":0.43},{"t":16.8,"h":0.48},{"t":18.0,"h":0.53},{"t":15.7,"h":0.59},{"t":18.9,"h":0.65},{"t":16.6,"h":0.71},{"t":17.6,"h":0.8},{"t":16.1,"h":0.91},{"t":18.3,"h":1.04},{"t":17.1,"h":1.22},{"t":18.7,"h":0.27},{"t":16.4,"h":0.62},{"t":17.8,"h":0.74},{"t":15.9,"h":0.56},
{"t":21.0,"h":0.3},{"t":19.6,"h":0.36},{"t":20.0,"h":0.41},{"t":18.8,"h":0.45},{"t":21.4,"h":0.5},{"t":19.4,"h":0.55},{"t":20.8,"h":0.6},{"t":18.2,"h":0.66},{"t":21.8,"h":0.73},{"t":19.2,"h":0.81},{"t":20.4,"h":0.93},{"t":18.6,"h":1.08},{"t":21.2,"h":1.28},{"t":19.8,"h":0.24},{"t":21.6,"h":0.47},{"t":19.0,"h":0.69},{"t":20.6,"h":0.58},
{"t":21.2,"h":0.33},{"t":24.2,"h":0.39},{"t":22.5,"h":0.44},{"t":23.0,"h":0.49},{"t":21.6,"h":0.54},{"t":24.6,"h":0.59},{"t":22.3,"h":0.64},{"t":23.9,"h":0.7},{"t":20.9,"h":0.77},{"t":25.1,"h":0.87},{"t":22.1,"h":0.99},{"t":23.5,"h":1.13},{"t":21.4,"h":0.28},{"t":24.4,"h":0.51},{"t":22.8,"h":0.62},{"t":24.8,"h":0.74},{"t":21.9,"h":1.35},
{"t":27.3,"h":0.31},{"t":24.4,"h":0.37},{"t":27.8,"h":0.42},{"t":26.0,"h":0.47},{"t":26.5,"h":0.52},{"t":24.9,"h":0.57},{"t":28.4,"h":0.61},{"t":25.7,"h":0.67},{"t":27.6,"h":0.73},{"t":24.1,"h":0.8},{"t":28.9,"h":0.9},{"t":25.4,"h":1.03},{"t":27.0,"h":1.2},{"t":24.6,"h":0.26},{"t":28.1,"h":0.55},{"t":26.2,"h":0.64},{"t":28.6,"h":0.45},
{"t":29.0,"h":0.29},{"t":31.4,"h":0.35},{"t":28.1,"h":0.4},{"t":32.0,"h":0.46},{"t":29.9,"h":0.51},{"t":30.5,"h":0.56},{"t":28.7,"h":0.6},{"t":32.6,"h":0.65},{"t":29.6,"h":0.71},{"t":31.7,"h":0.78},{"t":27.8,"h":0.86},{"t":33.2,"h":0.97},{"t":29.3,"h":1.1},{"t":31.1,"h":0.24},{"t":28.4,"h":0.43},{"t":32.3,"h":0.53},{"t":30.2,"h":0.68},{"t":32.9,"h":1.3},
{"t":33.3,"h":0.32},{"t":36.1,"h":0.38},{"t":32.2,"h":0.43},{"t":36.8,"h":0.48},{"t":34.3,"h":0.53},{"t":35.0,"h":0.58},{"t":32.9,"h":0.63},{"t":37.5,"h":0.69},{"t":34.0,"h":0.76},{"t":36.4,"h":0.84},{"t":31.9,"h":0.94},{"t":38.2,"h":1.07},{"t":33.6,"h":0.27},{"t":35.7,"h":0.5},{"t":32.6,"h":0.61},{"t":37.1,"h":0.73},{"t":34.7,"h":1.22},
{"t":43.2,"h":0.3},{"t":38.0,"h":0.36},{"t":41.2,"h":0.41},{"t":36.8,"h":0.46},{"t":42.0,"h":0.51},{"t":39.2,"h":0.56},{"t":40.0,"h":0.61},{"t":37.6,"h":0.67},{"t":42.8,"h":0.74},{"t":38.8,"h":0.82},{"t":41.6,"h":0.92},{"t":36.4,"h":1.05},{"t":43.6,"h":0.25},{"t":38.4,"h":0.54},{"t":40.8,"h":0.7},{"t":37.2,"h":1.18},
{"t":48.8,"h":0.33},{"t":45.5,"h":0.39},{"t":49.7,"h":0.44},{"t":43.7,"h":0.49},{"t":47.4,"h":0.55},{"t":42.3,"h":0.6},{"t":48.3,"h":0.66},{"t":45.1,"h":0.72},{"t":46.0,"h":0.8},{"t":43.2,"h":0.9},{"t":49.2,"h":1.02},{"t":44.6,"h":0.28},{"t":47.8,"h":0.52},{"t":41.9,"h":0.63},{"t":50.1,"h":1.15},
{"t":50.9,"h":0.31},{"t":54.1,"h":0.37},{"t":49.3,"h":0.42},{"t":56.2,"h":0.47},{"t":52.5,"h":0.53},{"t":57.2,"h":0.58},{"t":50.4,"h":0.64},{"t":54.6,"h":0.7},{"t":48.8,"h":0.78},{"t":55.7,"h":0.88},{"t":51.9,"h":1.0},{"t":53.0,"h":0.26},{"t":49.8,"h":0.56},{"t":56.7,"h":0.67},{"t":51.4,"h":1.12},
{"t":63.4,"h":0.34},{"t":55.5,"h":0.4},{"t":66.5,"h":0.45},{"t":58.6,"h":0.51},{"t":62.2,"h":0.57},{"t":56.7,"h":0.62},{"t":64.7,"h":0.69},{"t":60.4,"h":0.76},{"t":65.9,"h":0.85},{"t":58.0,"h":0.97},{"t":62.8,"h":0.29},{"t":56.1,"h":0.54},{"t":64.1,"h":1.1},
{"t":68.6,"h":0.32},{"t":70,"h":0.38},{"t":65.8,"h":0.44},{"t":74.9,"h":0.5},{"t":67.9,"h":0.55},{"t":72.8,"h":0.61},{"t":63.7,"h":0.67},{"t":76.3,"h":0.74},{"t":67.2,"h":0.83},{"t":71.4,"h":0.95},{"t":65.1,"h":0.27},{"t":74.2,"h":0.58},{"t":69.3,"h":1.07},
{"t":86.4,"h":0.35},{"t":76,"h":0.41},{"t":82.4,"h":0.47},{"t":73.6,"h":0.53},{"t":84,"h":0.59},{"t":78.4,"h":0.65},{"t":80,"h":0.72},{"t":75.2,"h":0.81},{"t":85.6,"h":0.92},{"t":77.6,"h":0.3},{"t":83.2,"h":0.62},{"t":72.8,"h":1.04},
{"t":100,"h":0.33},{"t":88,"h":0.4},{"t":94,"h":0.46},{"t":86,"h":0.52},{"t":98,"h":0.58},{"t":91,"h":0.64},{"t":99,"h":0.71},{"t":87,"h":0.79},{"t":95,"h":0.9},{"t":85,"h":0.28},{"t":97,"h":1.02},
{"t":104,"h":0.36},{"t":106,"h":0.43},{"t":100,"h":0.49},{"t":113,"h":0.55},{"t":103,"h":0.61},{"t":110,"h":0.68},{"t":96,"h":0.76},{"t":116,"h":0.87},{"t":102,"h":0.31},{"t":108,"h":0.98},
{"t":113,"h":0.34},{"t":129,"h":0.41},{"t":121,"h":0.48},{"t":132,"h":0.54},{"t":116,"h":0.6},{"t":126,"h":0.67},{"t":112,"h":0.75},{"t":128,"h":0.85},{"t":120,"h":0.95},
{"t":140,"h":0.38},{"t":132,"h":0.45},{"t":150,"h":0.52},{"t":136,"h":0.59},{"t":146,"h":0.66},{"t":127,"h":0.74},{"t":153,"h":0.83},{"t":134,"h":0.32},
{"t":164,"h":0.4},{"t":150,"h":0.48},{"t":171,"h":0.55},{"t":159,"h":0.63},{"t":174,"h":0.71},{"t":153,"h":0.8},{"t":166,"h":0.93},
{"t":170,"h":0.36},{"t":194,"h":0.44},{"t":181,"h":0.53},{"t":185,"h":0.61},{"t":174,"h":0.69},{"t":198,"h":0.78},
{"t":207,"h":0.42},{"t":222,"h":0.5},{"t":194,"h":0.58},{"t":232,"h":0.67},{"t":204,"h":0.76},{"t":217,"h":0.88},
{"t":228,"h":0.46},{"t":260,"h":0.55},{"t":243,"h":0.64},{"t":265,"h":0.73},
{"t":268,"h":0.4},{"t":290,"h":0.51},{"t":259,"h":0.62},{"t":296,"h":0.7},
{"t":319,"h":0.48},{"t":325,"h":0.59},{"t":306,"h":0.68},
{"t":6.7,"h":0.47},{"t":7.35,"h":0.66},{"t":6.4,"h":0.88},{"t":7.6,"h":1.1},
{"t":10.5,"h":0.4},{"t":9.9,"h":0.5},{"t":11.1,"h":0.61},{"t":10.3,"h":0.73},{"t":10.8,"h":0.88},{"t":9.6,"h":1.02},{"t":11.4,"h":1.2},
{"t":11.8,"h":0.35},{"t":12.7,"h":0.45},{"t":11.7,"h":0.53},{"t":12.8,"h":0.65},{"t":11.2,"h":0.8},{"t":13.2,"h":0.92},{"t":12.2,"h":1.05},{"t":11.5,"h":1.22},
{"t":14.8,"h":0.32},{"t":13.7,"h":0.41},{"t":14.4,"h":0.49},{"t":12.7,"h":0.55},{"t":15.3,"h":0.66},{"t":13.6,"h":0.74},{"t":14.6,"h":0.93},{"t":13.4,"h":1.08},{"t":14.7,"h":1.28},
{"t":14.9,"h":0.34},{"t":17.5,"h":0.43},{"t":16.2,"h":0.5},{"t":15.2,"h":0.61},{"t":17.2,"h":0.68},{"t":15.9,"h":0.75},{"t":16.7,"h":0.85},{"t":14.7,"h":0.96},{"t":17.7,"h":1.12},{"t":15.7,"h":1.33},
{"t":19.3,"h":0.35},{"t":17.9,"h":0.4},{"t":19.5,"h":0.47},{"t":17.1,"h":0.57},{"t":20.1,"h":0.63},{"t":18.6,"h":0.7},{"t":17.5,"h":0.77},{"t":19.7,"h":0.87},{"t":18.2,"h":0.99},{"t":19.2,"h":1.16},
{"t":19.6,"h":0.32},{"t":23.4,"h":0.38},{"t":20.9,"h":0.43},{"t":22.4,"h":0.52},{"t":20.6,"h":0.57},{"t":22.6,"h":0.62},{"t":19.8,"h":0.68},{"t":23.2,"h":0.79},{"t":21.5,"h":0.85},{"t":20.2,"h":0.96},{"t":22.8,"h":1.18},
{"t":24.2,"h":0.3},{"t":25.4,"h":0.35},{"t":22.5,"h":0.41},{"t":26.9,"h":0.46},{"t":24.0,"h":0.55},{"t":25.7,"h":0.6},{"t":23.7,"h":0.66},{"t":25.9,"h":0.72},{"t":22.7,"h":0.83},{"t":26.7,"h":0.94},{"t":24.7,"h":1.08},
{"t":26.7,"h":0.33},{"t":30.1,"h":0.38},{"t":27.8,"h":0.44},{"t":29.3,"h":0.5},{"t":25.8,"h":0.54},{"t":31.0,"h":0.63},{"t":27.5,"h":0.69},{"t":29.5,"h":0.75},{"t":27.3,"h":0.82},{"t":29.8,"h":0.93},{"t":26.1,"h":1.05},
{"t":35.3,"h":0.3},{"t":32.7,"h":0.36},{"t":30.7,"h":0.41},{"t":34.7,"h":0.45},{"t":32.0,"h":0.5},{"t":33.7,"h":0.55},{"t":29.8,"h":0.6},{"t":35.6,"h":0.66},{"t":31.7,"h":0.72},{"t":34.0,"h":0.8},{"t":31.4,"h":0.89},{"t":34.3,"h":1.0},{"t":30.1,"h":1.15},
{"t":40.6,"h":0.33},{"t":37.6,"h":0.39},{"t":35.3,"h":0.44},{"t":39.9,"h":0.49},{"t":36.8,"h":0.54},{"t":38.7,"h":0.59},{"t":34.2,"h":0.64},{"t":41.0,"h":0.71},{"t":36.5,"h":0.79},{"t":39.1,"h":0.87},{"t":36.1,"h":0.98},{"t":39.5,"h":1.12},
{"t":39.7,"h":0.32},{"t":46.7,"h":0.38},{"t":43.2,"h":0.43},{"t":40.6,"h":0.47},{"t":45.8,"h":0.53},{"t":42.3,"h":0.58},{"t":44.5,"h":0.63},{"t":39.3,"h":0.69},{"t":47.1,"h":0.77},{"t":41.9,"h":0.86},{"t":44.9,"h":0.96},
{"t":47.7,"h":0.35},{"t":52.2,"h":0.4},{"t":45.7,"h":0.45},{"t":53.7,"h":0.5},{"t":49.7,"h":0.56},{"t":46.7,"h":0.61},{"t":52.7,"h":0.67},{"t":48.7,"h":0.74},{"t":51.2,"h":0.83},{"t":45.2,"h":0.94},
{"t":62.1,"h":0.33},{"t":55.3,"h":0.38},{"t":59.3,"h":0.43},{"t":54.7,"h":0.49},{"t":59.9,"h":0.55},{"t":52.4,"h":0.6},{"t":61.6,"h":0.66},{"t":57,"h":0.73},{"t":53.6,"h":0.81},{"t":60.4,"h":0.91},{"t":55.9,"h":1.04},
{"t":67.5,"h":0.36},{"t":59.6,"h":0.41},{"t":71.4,"h":0.47},{"t":63.5,"h":0.53},{"t":68.1,"h":0.59},{"t":62.9,"h":0.64},{"t":68.8,"h":0.71},{"t":60.3,"h":0.79},{"t":70.7,"h":0.89},
{"t":75,"h":0.33},{"t":70.5,"h":0.39},{"t":79.5,"h":0.45},{"t":73.5,"h":0.51},{"t":77.3,"h":0.57},{"t":68.3,"h":0.63},{"t":81.8,"h":0.7},{"t":72.8,"h":0.78},{"t":78,"h":0.87},
{"t":82.6,"h":0.37},{"t":90.3,"h":0.43},{"t":79.1,"h":0.49},{"t":92.9,"h":0.55},{"t":86,"h":0.61},{"t":80.8,"h":0.68},{"t":91.2,"h":0.76},{"t":84.3,"h":0.85},
{"t":102,"h":0.35},{"t":90,"h":0.42},{"t":108,"h":0.48},{"t":96,"h":0.54},{"t":103,"h":0.6},{"t":95,"h":0.67},{"t":104,"h":0.74},{"t":91,"h":0.83},
{"t":123,"h":0.38},{"t":114,"h":0.45},{"t":107,"h":0.51},{"t":121,"h":0.58},{"t":112,"h":0.65},{"t":117,"h":0.72},{"t":104,"h":0.8},
{"t":143,"h":0.36},{"t":127,"h":0.43},{"t":136,"h":0.5},{"t":126,"h":0.56},{"t":138,"h":0.63},{"t":121,"h":0.7},{"t":141,"h":0.78},{"t":131,"h":0.9},
{"t":141,"h":0.42},{"t":159,"h":0.49},{"t":147,"h":0.56},{"t":155,"h":0.64},{"t":137,"h":0.72},
{"t":189,"h":0.38},{"t":168,"h":0.46},{"t":180,"h":0.52},{"t":166,"h":0.6},{"t":182,"h":0.67},{"t":159,"h":0.75},
{"t":216,"h":0.4},{"t":200,"h":0.47},{"t":188,"h":0.55},{"t":212,"h":0.63},{"t":196,"h":0.71},
{"t":247,"h":0.43},{"t":218,"h":0.52},{"t":262,"h":0.6},{"t":233,"h":0.68},{"t":250,"h":0.8},
{"t":269,"h":0.45},{"t":294,"h":0.56},{"t":258,"h":0.66},
{"t":400,"h":0.5},{"t":370,"h":0.62},{"t":348,"h":0.72},
{"t":11.3,"h":0.44},{"t":10.7,"h":0.58},{"t":11.6,"h":0.7},{"t":10.9,"h":0.79},{"t":11.1,"h":0.92},
{"t":13.9,"h":0.39},{"t":13.1,"h":0.47},{"t":13.6,"h":0.53},{"t":13.3,"h":0.61},{"t":14.0,"h":0.67},{"t":13.2,"h":0.8},{"t":13.7,"h":0.9},
{"t":16.9,"h":0.36},{"t":16.0,"h":0.45},{"t":17.0,"h":0.51},{"t":16.3,"h":0.57},{"t":16.7,"h":0.66},{"t":15.9,"h":0.72},{"t":17.1,"h":0.83},{"t":16.4,"h":0.93},{"t":16.6,"h":1.06},
{"t":20.5,"h":0.34},{"t":19.3,"h":0.39},{"t":20.9,"h":0.48},{"t":19.7,"h":0.53},{"t":20.2,"h":0.6},{"t":19.1,"h":0.64},{"t":21.1,"h":0.71},{"t":19.9,"h":0.76},{"t":20.6,"h":0.84},{"t":19.4,"h":0.9},{"t":20.3,"h":1.02},
{"t":24.8,"h":0.36},{"t":23.3,"h":0.42},{"t":24.3,"h":0.47},{"t":23.6,"h":0.53},{"t":25.0,"h":0.58},{"t":23.1,"h":0.63},{"t":24.6,"h":0.68},{"t":23.8,"h":0.75},{"t":24.9,"h":0.81},{"t":23.4,"h":0.89},{"t":24.1,"h":0.97},
{"t":29.9,"h":0.37},{"t":28.2,"h":0.41},{"t":29.4,"h":0.47},{"t":28.6,"h":0.52},{"t":30.3,"h":0.58},{"t":28.0,"h":0.62},{"t":29.7,"h":0.66},{"t":28.8,"h":0.73},{"t":30.0,"h":0.79},{"t":28.4,"h":0.88},{"t":29.2,"h":1.0},
{"t":36.1,"h":0.35},{"t":33.9,"h":0.41},{"t":35.6,"h":0.46},{"t":34.4,"h":0.51},{"t":36.5,"h":0.56},{"t":33.6,"h":0.6},{"t":35.9,"h":0.66},{"t":34.7,"h":0.71},{"t":36.3,"h":0.79},{"t":34.1,"h":0.87},{"t":35.3,"h":0.98},
{"t":43.3,"h":0.35},{"t":40.8,"h":0.4},{"t":42.6,"h":0.45},{"t":41.2,"h":0.5},{"t":43.8,"h":0.54},{"t":40.5,"h":0.59},{"t":43.0,"h":0.64},{"t":41.6,"h":0.69},{"t":42.9,"h":0.76},{"t":40.9,"h":0.84},{"t":42.2,"h":0.94},
{"t":52.5,"h":0.36},{"t":49.6,"h":0.41},{"t":51.8,"h":0.46},{"t":50.2,"h":0.51},{"t":53.0,"h":0.56},{"t":49.3,"h":0.61},{"t":52.2,"h":0.66},{"t":50.6,"h":0.72},{"t":51.5,"h":0.8},{"t":49.9,"h":0.9},
{"t":64.0,"h":0.37},{"t":60.3,"h":0.43},{"t":62.9,"h":0.48},{"t":61.0,"h":0.53},{"t":63.6,"h":0.58},{"t":60.0,"h":0.64},{"t":63.2,"h":0.7},{"t":61.4,"h":0.77},{"t":62.5,"h":0.86},
{"t":77.3,"h":0.36},{"t":72.9,"h":0.42},{"t":76.1,"h":0.48},{"t":73.6,"h":0.54},{"t":77.8,"h":0.6},{"t":72.5,"h":0.66},{"t":76.6,"h":0.73},{"t":74.2,"h":0.82},
{"t":93,"h":0.39},{"t":87.5,"h":0.45},{"t":91.6,"h":0.51},{"t":88.4,"h":0.57},{"t":92.3,"h":0.63},{"t":86.9,"h":0.7},
{"t":113,"h":0.4},{"t":107,"h":0.47},{"t":111,"h":0.53},{"t":106,"h":0.59},{"t":114,"h":0.66}
]
},
"hconcat":[
{"vconcat":[
 {"width":810,"height":784,
  "layer":[
   {"data":{"name":"b1"},"mark":{"type":"line","strokeWidth":3,"clip":true},
    "encoding":{
     "x":{"field":"t","type":"quantitative","scale":{"domain":[-2,80],"nice":false,"zero":false},"axis":{"values":[0,10,20,30,40,50,60,70,80],"title":"δt (seconds)","titleFontSize":36,"titlePadding":4,"tickSize":-10,"labelPadding":20}},
     "y":{"field":"y","type":"quantitative","scale":{"domain":[-0.005,1.033],"nice":false,"zero":false},"axis":{"values":[0,0.2,0.4,0.6,0.8,1.0],"format":".1f","title":"Normalized Counts","titleFont":"DejaVu Serif","titleFontSize":33,"titlePadding":8.5,"tickSize":-10,"labelPadding":19}},
     "color":{"datum":"Normalized Counts, 15-25 keV","type":"nominal","scale":{"domain":["Normalized Counts, 15-25 keV","Normalized Counts, 25-50 keV","Normalized Counts, 50-100 keV","Normalized Counts, 100-150 keV","Normalized Counts, 15 - 150 keV"],"range":["#b4c0dc","#8fa1cb","#5d77b0","#2a4a8f","#e8302a"]},
      "legend":{"orient":"none","legendX":224,"legendY":115,"title":null,"symbolType":"stroke","symbolSize":2401,"symbolStrokeWidth":3,"labelFont":"DejaVu Serif Condensed, DejaVu Serif","labelFontSize":32,"labelColor":"#222","labelOffset":27,"rowPadding":0,"labelLimit":700,"padding":0}}}},
   {"data":{"name":"b2"},"mark":{"type":"line","strokeWidth":3,"clip":true},"encoding":{"x":{"field":"t","type":"quantitative"},"y":{"field":"y","type":"quantitative"},"color":{"datum":"Normalized Counts, 25-50 keV","type":"nominal"}}},
   {"data":{"name":"b3"},"mark":{"type":"line","strokeWidth":3,"clip":true},"encoding":{"x":{"field":"t","type":"quantitative"},"y":{"field":"y","type":"quantitative"},"color":{"datum":"Normalized Counts, 50-100 keV","type":"nominal"}}},
   {"data":{"name":"b4"},"mark":{"type":"line","strokeWidth":3,"clip":true},"encoding":{"x":{"field":"t","type":"quantitative"},"y":{"field":"y","type":"quantitative"},"color":{"datum":"Normalized Counts, 100-150 keV","type":"nominal"}}},
   {"data":{"name":"b5"},"mark":{"type":"line","strokeWidth":3.5,"clip":true},"encoding":{"x":{"field":"t","type":"quantitative"},"y":{"field":"y","type":"quantitative"},"color":{"datum":"Normalized Counts, 15 - 150 keV","type":"nominal"}}},
   {"data":{"values":[{}]},"mark":{"type":"text","align":"right","baseline":"alphabetic","font":"DejaVu Serif Condensed, DejaVu Serif","fontSize":48,"fontWeight":"bold","color":"black"},"encoding":{"x":{"datum":50.9},"y":{"datum":0.932},"text":{"value":"GRB 211211A:"}}},
   {"data":{"values":[{}]},"mark":{"type":"text","align":"right","baseline":"alphabetic","font":"DejaVu Serif Condensed, DejaVu Serif","fontSize":48,"fontWeight":"bold","fontStyle":"italic","color":"black"},"encoding":{"x":{"datum":64.9},"y":{"datum":0.932},"text":{"value":"Swift"}}},
   {"data":{"values":[{}]},"mark":{"type":"text","align":"right","baseline":"alphabetic","font":"DejaVu Serif Condensed, DejaVu Serif","fontSize":48,"fontWeight":"bold","color":"black"},"encoding":{"x":{"datum":77.0},"y":{"datum":0.932},"text":{"value":"/BAT"}}}
  ]},
 {"width":810,"height":292,
  "layer":[
   {"data":{"name":"gbm"},"mark":{"type":"line","strokeWidth":3,"color":"#e8302a","clip":true},
    "encoding":{
     "x":{"field":"t","type":"quantitative","scale":{"domain":[-2,80],"nice":false,"zero":false},"axis":{"values":[0,10,20,30,40,50,60,70,80],"title":"δt (seconds)","titleFontSize":36,"titlePadding":4,"tickSize":-10,"labelPadding":17}},
     "y":{"field":"y","type":"quantitative","scale":{"domain":[-0.003,1.03],"nice":false,"zero":false},"axis":{"values":[0,0.5,1.0],"format":".1f","title":"Normalized Counts","titleFont":"DejaVu Serif","titleFontSize":33,"titlePadding":13.5,"tickSize":-10,"labelPadding":19}}}},
   {"data":{"values":[{}]},"mark":{"type":"text","align":"right","baseline":"alphabetic","font":"DejaVu Serif Condensed, DejaVu Serif","fontSize":48,"fontWeight":"bold","color":"black"},"encoding":{"x":{"datum":49.3},"y":{"datum":0.778},"text":{"value":"GRB 211211A:"}}},
   {"data":{"values":[{}]},"mark":{"type":"text","align":"right","baseline":"alphabetic","font":"DejaVu Serif Condensed, DejaVu Serif","fontSize":48,"fontWeight":"bold","fontStyle":"italic","color":"black"},"encoding":{"x":{"datum":64.7},"y":{"datum":0.778},"text":{"value":"Fermi"}}},
   {"data":{"values":[{}]},"mark":{"type":"text","align":"right","baseline":"alphabetic","font":"DejaVu Serif Condensed, DejaVu Serif","fontSize":48,"fontWeight":"bold","color":"black"},"encoding":{"x":{"datum":78.4},"y":{"datum":0.778},"text":{"value":"/GBM"}}},
   {"data":{"values":[{}]},"mark":{"type":"text","align":"right","baseline":"alphabetic","font":"DejaVu Serif Condensed, DejaVu Serif","fontSize":36,"color":"#222"},"encoding":{"x":{"datum":78.75},"y":{"datum":0.546},"text":{"value":"Normalized Counts, 8-900 keV"}}}
  ]}
 ],"spacing":108,"bounds":"flush"},
{"vconcat":[
 {"width":709,"height":66,"view":{"stroke":null},"data":{"values":[{}]},"mark":{"type":"text","opacity":0},"encoding":{"text":{"value":""}}},
 {"width":709,"height":243,
  "layer":[
   {"data":{"name":"hist"},"mark":{"type":"rect","color":"#ee6b62"},
    "encoding":{
     "x":{"field":"lo","type":"quantitative","scale":{"type":"log","domain":[0.01,1000],"nice":false},"axis":{"orient":"top","values":[0.01,0.1,1,10,100,1000],"labelExpr":"datum.value < 0.05 ? '10⁻²' : datum.value < 0.5 ? '10⁻¹' : datum.value < 5 ? '10⁰' : datum.value < 50 ? '10¹' : datum.value < 500 ? '10²' : '10³'","title":"t₉₀ (seconds)","titleFontSize":36,"titlePadding":10,"tickSize":10,"labelPadding":12}},
     "x2":{"field":"hi"},
     "y":{"field":"n","type":"quantitative","scale":{"domain":[0,322],"nice":false},"axis":{"values":[0,100,200,300],"title":"# of GRBs","titleFont":"DejaVu Serif","titleFontSize":37,"titlePadding":16,"tickSize":9,"labelPadding":18,"labelOffset":{"condition":{"test":"datum.value < 50","value":-9},"value":0}}},
     "y2":{"datum":0}}},
   {"data":{"values":[{"t90":2}]},"mark":{"type":"rule","strokeDash":[3,6],"strokeWidth":3,"color":"black"},
    "encoding":{"x":{"field":"t90","type":"quantitative","axis":{"orient":"top","values":[0.02,0.03,0.04,0.05,0.06,0.07,0.08,0.09,0.2,0.3,0.4,0.5,0.6,0.7,0.8,0.9,2,3,4,5,6,7,8,9,20,30,40,50,60,70,80,90,200,300,400,500,600,700,800,900],"labels":false,"title":null,"tickSize":5}}}},
   {"data":{"values":[{"t90":34}]},"mark":{"type":"rule","strokeDash":[40,13],"strokeWidth":7,"color":"#2a4a8c"},
    "encoding":{"x":{"field":"t90","type":"quantitative","axis":null}}},
   {"data":{"values":[{}]},"mark":{"type":"text","align":"right","baseline":"alphabetic","font":"DejaVu Serif Condensed, DejaVu Serif","fontSize":30,"color":"#222"},"encoding":{"x":{"datum":1.42,"axis":null},"y":{"datum":80},"text":{"value":"Short GRBs"}}},
   {"data":{"values":[{}]},"mark":{"type":"text","align":"right","baseline":"alphabetic","font":"DejaVu Serif Condensed, DejaVu Serif","fontSize":30,"color":"#222"},"encoding":{"x":{"datum":822,"axis":null},"y":{"datum":274},"text":{"value":"Long GRBs"}}}
  ],
  "resolve":{"axis":{"x":"independent"}}},
 {"width":709,"height":784,
  "layer":[
   {"data":{"name":"grbs"},"mark":{"type":"point","filled":true,"size":90,"color":"#e53b30","fillOpacity":0.5,"stroke":"#e0362b","strokeOpacity":0.7,"strokeWidth":1.5},
    "encoding":{
     "x":{"field":"t","type":"quantitative","scale":{"type":"log","domain":[0.01,1000],"nice":false},"axis":{"orient":"bottom","values":[0.01,0.1,1,10,100,1000],"labelExpr":"datum.value < 0.05 ? '10⁻²' : datum.value < 0.5 ? '10⁻¹' : datum.value < 5 ? '10⁰' : datum.value < 50 ? '10¹' : datum.value < 500 ? '10²' : '10³'","title":"t₉₀ (seconds)","titleFontSize":36,"titlePadding":17,"tickSize":10,"labelPadding":10}},
     "y":{"field":"h","type":"quantitative","scale":{"type":"log","domain":[0.1,10],"nice":false},"axis":{"orient":"left","values":[0.1,1,10],"labelExpr":"datum.value < 0.5 ? '0.1' : datum.value < 5 ? '1' : '10'","title":"Hardness ratio","titleFont":"DejaVu Serif","titleFontSize":37,"titlePadding":32,"tickSize":10,"labelPadding":4,"labelOffset":{"condition":{"test":"datum.value > 5","value":6},"value":0}}}}},
   {"data":{"values":[{}]},"mark":{"type":"rule","strokeWidth":3.5,"color":"black"},
    "encoding":{"x":{"datum":0.99,"axis":null},"y":{"datum":0.237,"axis":null},"x2":{"datum":29},"y2":{"datum":0.55}}},
   {"data":{"values":[{"t":34,"h":0.57}]},"mark":{"type":"point","filled":true,"size":600,"color":"#2a4a8c","opacity":1},
    "encoding":{
     "x":{"field":"t","type":"quantitative","axis":{"orient":"bottom","values":[0.02,0.03,0.04,0.05,0.06,0.07,0.08,0.09,0.2,0.3,0.4,0.5,0.6,0.7,0.8,0.9,2,3,4,5,6,7,8,9,20,30,40,50,60,70,80,90,200,300,400,500,600,700,800,900],"labels":false,"title":null,"tickSize":5}},
     "y":{"field":"h","type":"quantitative","axis":{"orient":"left","values":[0.2,0.3,0.4,0.5,0.6,0.7,0.8,0.9,2,3,4,5,6,7,8,9],"labels":false,"title":null,"tickSize":5}}}},
   {"data":{"values":[{}]},"mark":{"type":"text","align":"center","baseline":"alphabetic","font":"DejaVu Serif Condensed, DejaVu Serif","fontSize":48,"fontWeight":"bold","color":"black"},"encoding":{"x":{"datum":0.265,"axis":null},"y":{"datum":0.199,"axis":null},"text":{"value":"GRB"}}},
   {"data":{"values":[{}]},"mark":{"type":"text","align":"center","baseline":"alphabetic","font":"DejaVu Serif Condensed, DejaVu Serif","fontSize":48,"fontWeight":"bold","color":"black"},"encoding":{"x":{"datum":0.265,"axis":null},"y":{"datum":0.133,"axis":null},"text":{"value":"211211A"}}}
  ],
  "resolve":{"axis":{"x":"independent","y":"independent"}}}
 ],"spacing":28,"bounds":"flush"}
]
}
